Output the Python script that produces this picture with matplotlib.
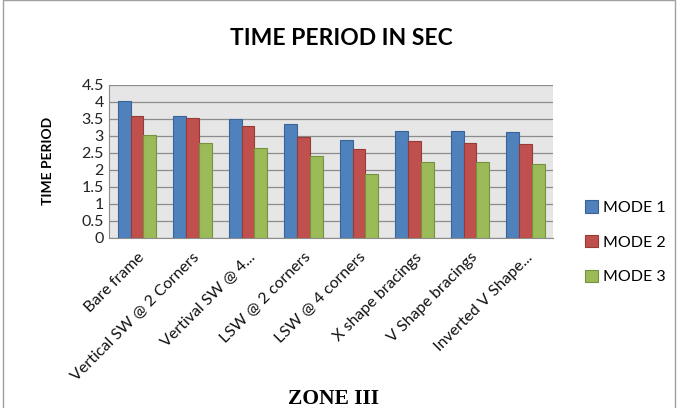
import matplotlib.pyplot as plt
import numpy as np
from matplotlib.patches import Rectangle

# ================== data ==================
categories = ['Bare frame', 'Vertical SW @ 2 Corners', 'Vertival SW @ 4...',
              'LSW @ 2 corners', 'LSW @ 4 corners', 'X shape bracings',
              'V Shape bracings', 'Inverted V Shape...']
mode1 = [4.04, 3.59, 3.51, 3.34, 2.88, 3.13, 3.13, 3.10]
mode2 = [3.59, 3.54, 3.28, 2.98, 2.60, 2.86, 2.80, 2.76]
mode3 = [3.04, 2.80, 2.63, 2.41, 1.88, 2.22, 2.22, 2.18]
series_names = ['MODE 1', 'MODE 2', 'MODE 3']
yticks = [0, 0.5, 1, 1.5, 2, 2.5, 3, 3.5, 4, 4.5]
ytick_labels = ['0', '0.5', '1', '1.5', '2', '2.5', '3', '3.5', '4', '4.5']

# ================== style ==================
plt.rcParams['font.family'] = ['Lato', 'DejaVu Sans']
colors = ['#4F81BD', '#C0504D', '#9BBB59']
edges = ['#3A6496', '#973B39', '#76923C']

fig = plt.figure(figsize=(6.83, 4.08), dpi=100)
fig.patches.append(Rectangle((0.004, -0.02), 0.985, 1.02, transform=fig.transFigure,
                             fill=False, edgecolor='#A0A0A0', linewidth=1.0))

ax = fig.add_axes([0.160, 0.417, 0.650, 0.375])
ax.set_facecolor('#E6E6E6')

x = np.arange(len(categories))
w = 0.23
for i, vals in enumerate([mode1, mode2, mode3]):
    ax.bar(x + (i - 1) * w, vals, width=w, color=colors[i], edgecolor=edges[i],
           linewidth=0.8, label=series_names[i], zorder=3)

ax.set_xlim(-0.5, len(categories) - 0.5)
ax.set_ylim(0, 4.5)
ax.set_yticks(yticks)
ax.set_yticklabels(ytick_labels, fontsize=11.5, color='#222222')
ax.yaxis.grid(True, color='#8C8C8C', linewidth=0.9, zorder=0)
ax.set_xticks(x)
ax.set_xticklabels(categories, rotation=45, ha='right', rotation_mode='anchor',
                   fontsize=11.5, color='#111111')
ax.tick_params(axis='both', length=0, pad=4)
ax.tick_params(axis='x', pad=9)
for s in ['top', 'right']:
    ax.spines[s].set_visible(False)
ax.spines['left'].set_color('#8C8C8C')
ax.spines['bottom'].set_color('#8C8C8C')

ax.set_ylabel('TIME PERIOD', fontsize=10, fontweight='bold', labelpad=20)

fig.text(0.5, 0.905, 'TIME PERIOD IN SEC', ha='center', va='center',
         fontsize=16.5, fontweight='bold')
fig.text(0.488, 0.022, 'ZONE III', ha='center', va='center',
         fontsize=15.5, fontweight='bold', family='Liberation Serif')

ax.legend(loc='center left', bbox_to_anchor=(1.04, -0.03), frameon=False,
          fontsize=11.5, handlelength=0.8, handleheight=0.8, labelspacing=1.25,
          handletextpad=0.3)

fig.savefig('out.png', dpi=100)
